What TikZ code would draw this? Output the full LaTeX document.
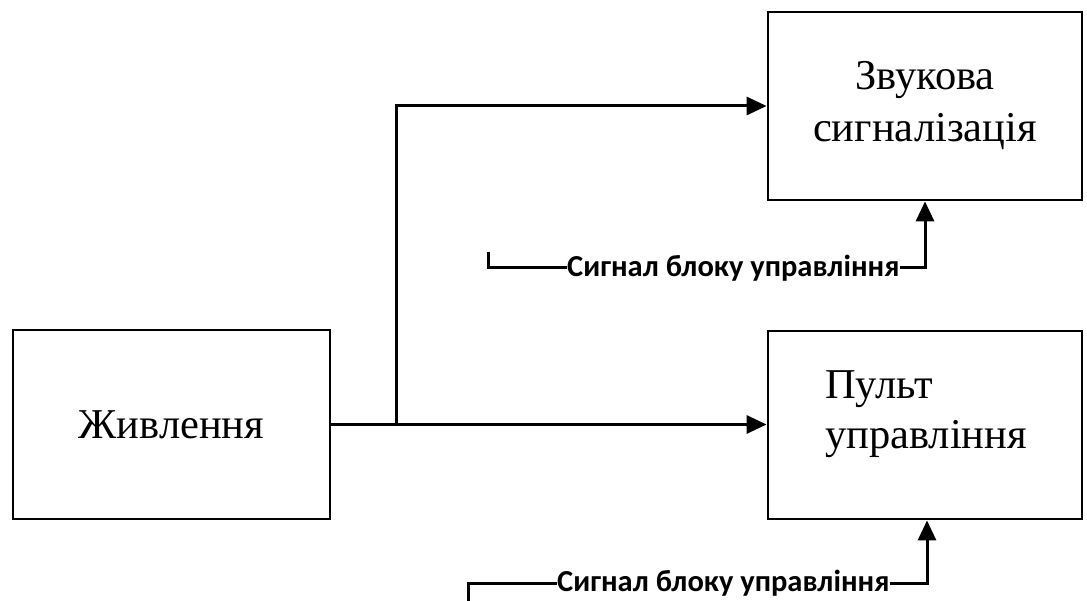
\documentclass[tikz,border=0pt]{standalone}
\usepackage{fontspec}
\setmainfont{Liberation Serif}
\newfontfamily\signalfont{Carlito}
\usetikzlibrary{arrows.meta,positioning}

\tikzset{
  block/.style={draw, line width=2.8pt, minimum width=314pt, minimum height=188pt,
    inner sep=0pt, align=center, font=\fontsize{42.5}{52}\selectfont},
  link/.style={line width=3pt, -{Triangle[length=20pt,width=18pt]}},
  wire/.style={line width=3pt},
  siglabel/.style={inner sep=0pt, anchor=west, font=\signalfont\bfseries\fontsize{30.5}{34}\selectfont}
}

\begin{document}
\begin{tikzpicture}[x=1pt, y=-1pt]
    % page frame
    \useasboundingbox (0,0) rectangle (1087,601);

    % Blocks
    \node[block, minimum width=317pt, minimum height=189pt] (pow) at (171.5, 424.5) {Живлення};
    \node[block] (zvuk) at (925, 106) {Звукова\\сигналізація};
    \node[block] (pult) at (925, 425) {};
    \node[anchor=north west, inner sep=0pt, align=left, font=\fontsize{42.5}{50}\selectfont]
        (pulttext) at (825, 370) {Пульт\\управління};

    % Power lines
    \coordinate (br) at (396, 424.5);
    \draw[link] (pow.east) -- (pult.west |- pow.east);
    \draw[link] (br) |- (zvuk.west);

    % Control signal to the sound block
    \coordinate (s1) at (488, 252);
    \node[siglabel] (sig1) at (567, 268) {Сигнал блоку управління};
    \draw[wire] (s1) |- (sig1.west);
    \draw[link] (sig1.east) -| (zvuk.south);

    % Control signal to the panel
    \coordinate (s2) at (468, 601);
    \node[siglabel] (sig2) at (557, 583) {Сигнал блоку управління};
    \draw[wire] (s2) |- (sig2.west);
    \draw[link] (sig2.east) -| ([xshift=2pt]pult.south);
\end{tikzpicture}
\end{document}
